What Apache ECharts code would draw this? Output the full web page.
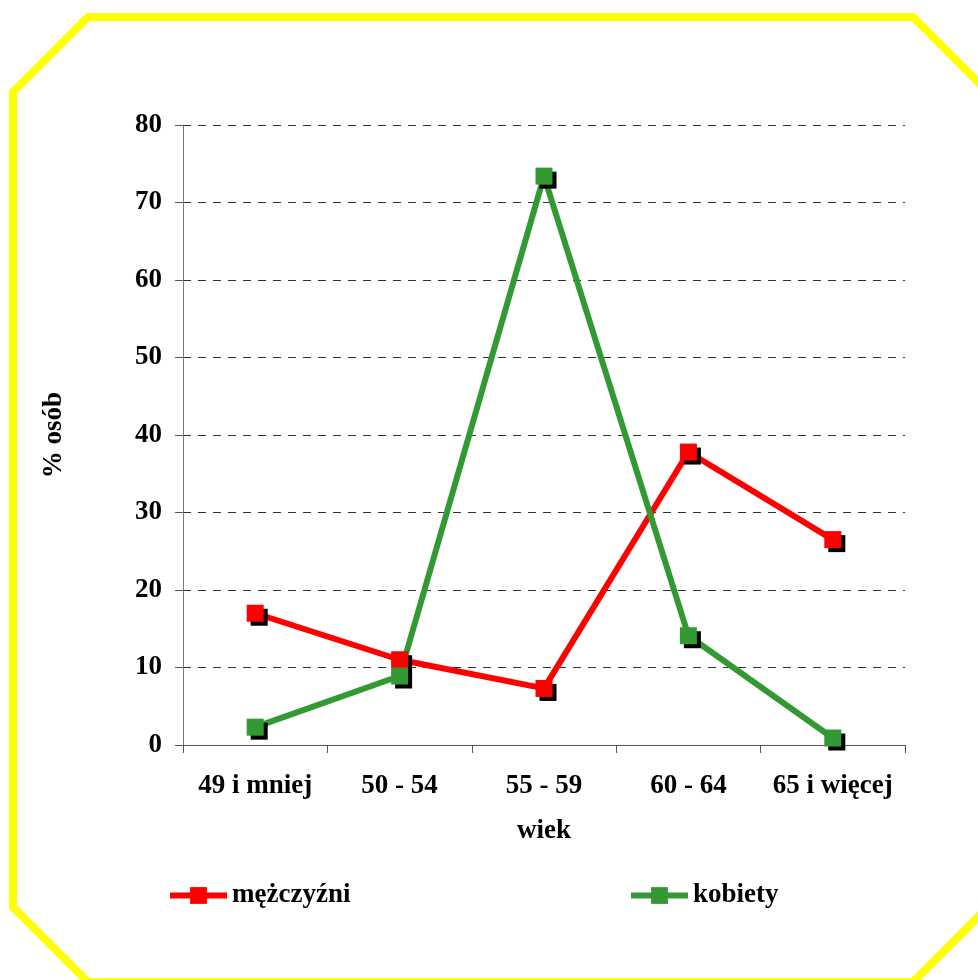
<!DOCTYPE html>
<html>
<head>
<meta charset="utf-8">
<script src="https://cdn.jsdelivr.net/npm/echarts@6/dist/echarts.min.js"></script>
<style>html,body{margin:0;padding:0;background:#fff;}#c{width:978px;height:980px;}</style>
</head>
<body>
<div id="c"></div>
<script>
const categories = ['49 i mniej', '50 - 54', '55 - 59', '60 - 64', '65 i więcej'];
const men = [17.0, 11.0, 7.3, 37.8, 26.5];
const women = [2.3, 8.9, 73.4, 14.1, 0.9];
const yTicks = [0, 10, 20, 30, 40, 50, 60, 70, 80];
const seriesNames = ['mężczyźni', 'kobiety'];

const FONT = "'Liberation Serif', 'Times New Roman', serif";
const FS = 27;
const chart = echarts.init(document.getElementById('c'), null, {renderer: 'canvas'});

const L = 13, T = 17, R = 988, B = 982, C = 75;
const octagon = [[L, T + C], [L + C, T], [R - C, T], [R, T + C], [R, B - C], [R - C, B], [L + C, B], [L, B - C]];

function mkSeries(name, data, color) {
  return {
    name: name,
    type: 'line',
    data: data,
    symbol: 'rect',
    symbolSize: 17,
    lineStyle: {color: color, width: 6},
    itemStyle: {color: color, shadowColor: '#000', shadowOffsetX: 4, shadowOffsetY: 4, shadowBlur: 0},
    emphasis: {disabled: true},
    animation: false
  };
}

const legendCommon = {
  top: 882,
  padding: 0,
  itemWidth: 57,
  itemHeight: 21,
  itemGap: 0,
  textStyle: {fontFamily: FONT, fontWeight: 'bold', fontSize: FS, color: '#000'},
  itemStyle: {shadowColor: 'rgba(0,0,0,0)', shadowOffsetX: 0, shadowOffsetY: 0},
  lineStyle: {width: 6, shadowColor: 'rgba(0,0,0,0)'},
  selectedMode: false
};

chart.setOption({
  backgroundColor: '#fff',
  animation: false,
  graphic: [{
    type: 'polygon',
    shape: {points: octagon},
    style: {fill: 'none', stroke: '#FFFF00', lineWidth: 8, lineJoin: 'miter'},
    z: 100
  }],
  legend: [
    Object.assign({}, legendCommon, {left: 167, data: [seriesNames[0]]}),
    Object.assign({}, legendCommon, {left: 628, data: [seriesNames[1]]})
  ],
  grid: {left: 183, right: 73, top: 125, bottom: 235, containLabel: false},
  xAxis: {
    type: 'category',
    data: categories,
    boundaryGap: true,
    name: 'wiek',
    nameLocation: 'middle',
    nameGap: 73,
    nameTextStyle: {fontFamily: FONT, fontWeight: 'bold', fontSize: FS, color: '#000'},
    axisLine: {lineStyle: {color: '#555', width: 1}},
    axisTick: {show: true, length: 8, alignWithLabel: false, lineStyle: {color: '#555'}},
    axisLabel: {fontFamily: FONT, fontWeight: 'bold', fontSize: FS, color: '#000', margin: 28, interval: 0}
  },
  yAxis: {
    type: 'value',
    min: yTicks[0],
    max: yTicks[yTicks.length - 1],
    interval: 10,
    name: '% osób',
    nameLocation: 'middle',
    nameGap: 115,
    nameRotate: 90,
    nameTextStyle: {fontFamily: FONT, fontWeight: 'bold', fontSize: FS, color: '#000'},
    axisLine: {show: true, lineStyle: {color: '#777', width: 1}},
    axisTick: {show: true, length: 8, lineStyle: {color: '#555'}},
    axisLabel: {fontFamily: FONT, fontWeight: 'bold', fontSize: FS, color: '#000', margin: 21},
    splitLine: {show: true, lineStyle: {color: '#333', type: [8, 7], width: 1}}
  },
  series: [
    mkSeries(seriesNames[0], men, '#FF0000'),
    mkSeries(seriesNames[1], women, '#339933')
  ]
});
</script>
</body>
</html>
